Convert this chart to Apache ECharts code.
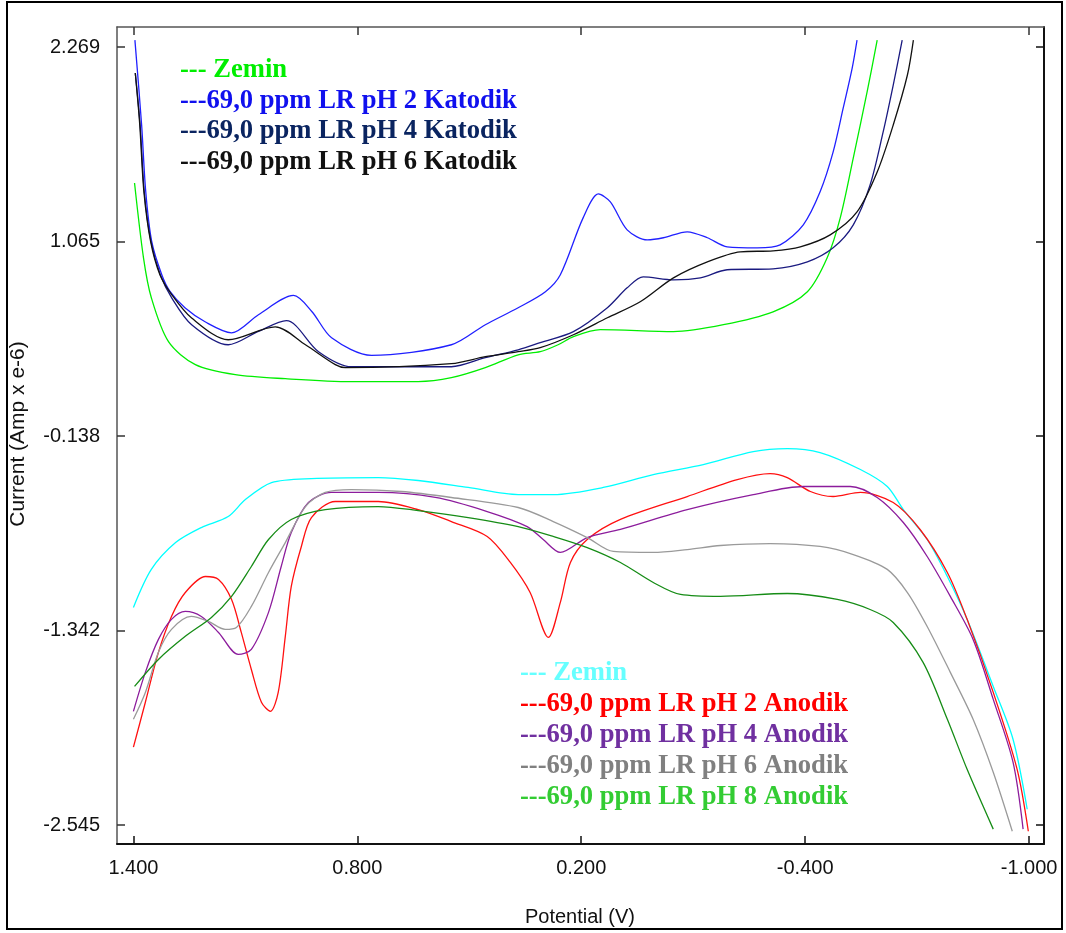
<!DOCTYPE html>
<html><head><meta charset="utf-8">
<script src="https://cdn.jsdelivr.net/npm/echarts@6/dist/echarts.min.js"></script>
<style>html,body{margin:0;padding:0;background:#fff}#c{width:1066px;height:933px}</style>
</head><body><div id="c"></div>
<script>
const xTicks = [1.4, 0.8, 0.2, -0.4, -1.0];
const yTicks = [2.269, 1.065, -0.138, -1.342, -2.545];
const xTitle = 'Potential (V)';
const yTitle = 'Current (Amp x e-6)';

// Katodik (upper group)
const zeminKatodik = [[1.397,1.428],[1.373,0.965],[1.352,0.718],[1.306,0.446],[1.234,0.304],[1.127,0.242],[0.993,0.217],[0.816,0.199],[0.637,0.199],[0.548,0.223],[0.457,0.285],[0.369,0.365],[0.310,0.384],[0.262,0.427],[0.221,0.477],[0.149,0.520],[-0.047,0.508],[-0.181,0.551],[-0.314,0.631],[-0.406,0.755],[-0.459,0.965],[-0.494,1.212],[-0.529,1.583],[-0.566,1.991],[-0.593,2.312]];
const pH2Katodik = [[1.396,2.312],[1.378,1.787],[1.367,1.375],[1.351,1.066],[1.324,0.860],[1.302,0.757],[1.262,0.656],[1.208,0.569],[1.137,0.501],[1.065,0.613],[0.971,0.732],[0.922,0.633],[0.869,0.470],[0.762,0.361],[0.548,0.427],[0.457,0.551],[0.369,0.656],[0.296,0.755],[0.256,0.860],[0.195,1.212],[0.154,1.360],[0.122,1.311],[0.077,1.138],[0.023,1.076],[-0.020,1.089],[-0.084,1.126],[-0.138,1.089],[-0.191,1.033],[-0.272,1.027],[-0.333,1.045],[-0.395,1.169],[-0.440,1.373],[-0.475,1.620],[-0.502,1.892],[-0.526,2.139],[-0.539,2.312]];
const pH4Katodik = [[1.395,2.108],[1.382,1.787],[1.371,1.375],[1.353,1.066],[1.328,0.860],[1.297,0.716],[1.244,0.551],[1.146,0.427],[1.065,0.510],[0.990,0.576],[0.904,0.384],[0.816,0.291],[0.548,0.291],[0.457,0.347],[0.369,0.396],[0.310,0.440],[0.221,0.508],[0.130,0.656],[0.077,0.779],[0.034,0.847],[-0.047,0.829],[-0.119,0.841],[-0.191,0.891],[-0.314,0.897],[-0.406,0.940],[-0.475,1.027],[-0.529,1.169],[-0.574,1.416],[-0.609,1.744],[-0.636,2.034],[-0.660,2.312]];
const pH6Katodik = [[1.395,2.108],[1.383,1.787],[1.372,1.375],[1.354,1.066],[1.329,0.860],[1.297,0.736],[1.244,0.592],[1.146,0.458],[1.020,0.538],[0.939,0.427],[0.859,0.304],[0.832,0.285],[0.548,0.310],[0.457,0.353],[0.369,0.384],[0.310,0.409],[0.221,0.489],[0.130,0.594],[0.042,0.693],[-0.047,0.841],[-0.138,0.940],[-0.226,1.002],[-0.314,1.008],[-0.387,1.033],[-0.467,1.107],[-0.539,1.249],[-0.593,1.496],[-0.636,1.787],[-0.674,2.096],[-0.690,2.312]];

// Anodik (lower group)
const zeminAnodik = [[1.400,-1.198],[1.352,-0.963],[1.287,-0.797],[1.218,-0.704],[1.146,-0.636],[1.100,-0.531],[1.030,-0.426],[0.923,-0.401],[0.744,-0.395],[0.637,-0.413],[0.503,-0.456],[0.369,-0.500],[0.275,-0.500],[0.141,-0.456],[0.007,-0.376],[-0.127,-0.314],[-0.261,-0.234],[-0.352,-0.216],[-0.440,-0.240],[-0.548,-0.345],[-0.620,-0.450],[-0.663,-0.593],[-0.727,-0.778],[-0.781,-1.007],[-0.834,-1.272],[-0.904,-1.687],[-0.957,-2.014],[-0.995,-2.447]];
const pH2Anodik = [[1.400,-2.063],[1.368,-1.785],[1.333,-1.476],[1.298,-1.254],[1.261,-1.106],[1.207,-1.007],[1.172,-1.025],[1.137,-1.149],[1.111,-1.353],[1.084,-1.582],[1.057,-1.785],[1.033,-1.841],[1.012,-1.724],[0.993,-1.377],[0.977,-1.068],[0.950,-0.821],[0.923,-0.642],[0.859,-0.543],[0.744,-0.543],[0.637,-0.593],[0.548,-0.667],[0.452,-0.759],[0.390,-0.920],[0.337,-1.106],[0.288,-1.384],[0.256,-1.167],[0.229,-0.920],[0.184,-0.778],[0.095,-0.654],[-0.084,-0.512],[-0.218,-0.407],[-0.306,-0.370],[-0.352,-0.395],[-0.414,-0.481],[-0.475,-0.512],[-0.548,-0.487],[-0.636,-0.549],[-0.708,-0.716],[-0.781,-0.982],[-0.834,-1.272],[-0.904,-1.724],[-0.968,-2.200],[-0.998,-2.583]];
const pH4Anodik = [[1.400,-1.841],[1.368,-1.600],[1.333,-1.396],[1.298,-1.272],[1.261,-1.223],[1.218,-1.254],[1.172,-1.353],[1.119,-1.489],[1.084,-1.458],[1.038,-1.229],[1.004,-0.945],[0.977,-0.735],[0.931,-0.549],[0.870,-0.487],[0.744,-0.487],[0.591,-0.518],[0.452,-0.605],[0.345,-0.698],[0.302,-0.778],[0.256,-0.858],[0.184,-0.766],[0.095,-0.716],[-0.084,-0.593],[-0.261,-0.500],[-0.395,-0.450],[-0.521,-0.450],[-0.593,-0.518],[-0.663,-0.673],[-0.727,-0.883],[-0.789,-1.130],[-0.850,-1.396],[-0.904,-1.767],[-0.957,-2.156],[-0.984,-2.570]];
const pH6Anodik = [[1.400,-1.890],[1.368,-1.724],[1.333,-1.476],[1.298,-1.334],[1.245,-1.254],[1.199,-1.285],[1.154,-1.334],[1.124,-1.322],[1.084,-1.192],[1.038,-0.982],[0.993,-0.797],[0.939,-0.574],[0.886,-0.487],[0.816,-0.469],[0.682,-0.481],[0.548,-0.518],[0.369,-0.580],[0.275,-0.667],[0.184,-0.766],[0.114,-0.852],[0.007,-0.858],[-0.084,-0.840],[-0.173,-0.815],[-0.306,-0.803],[-0.440,-0.821],[-0.529,-0.871],[-0.620,-0.963],[-0.674,-1.106],[-0.727,-1.316],[-0.789,-1.600],[-0.850,-1.890],[-0.904,-2.218],[-0.955,-2.583]];
const pH8Anodik = [[1.397,-1.687],[1.333,-1.520],[1.261,-1.377],[1.191,-1.260],[1.137,-1.130],[1.084,-0.945],[1.038,-0.778],[0.977,-0.654],[0.886,-0.593],[0.744,-0.574],[0.637,-0.599],[0.503,-0.642],[0.369,-0.698],[0.275,-0.759],[0.184,-0.828],[0.095,-0.920],[0.007,-1.044],[-0.066,-1.118],[-0.173,-1.130],[-0.352,-1.112],[-0.486,-1.149],[-0.574,-1.211],[-0.636,-1.291],[-0.716,-1.538],[-0.781,-1.890],[-0.834,-2.200],[-0.904,-2.570]];

const katodikLabels = ['--- Zemin','---69,0 ppm LR pH 2 Katodik','---69,0 ppm LR pH 4 Katodik','---69,0 ppm LR pH 6 Katodik'];
const anodikLabels = ['--- Zemin','---69,0 ppm LR pH 2 Anodik','---69,0 ppm LR pH 4 Anodik','---69,0 ppm LR pH 6 Anodik','---69,0 ppm LR pH 8 Anodik'];

const katodikData = [zeminKatodik, pH2Katodik, pH4Katodik, pH6Katodik];
const anodikData = [zeminAnodik, pH2Anodik, pH4Anodik, pH6Anodik, pH8Anodik];
const katodikLine = ['#00ee00','#2020ff','#1a1a80','#111111'];
const katodikText = ['#00ee00','#1010ee','#0a2460','#111111'];
const anodikLine = ['#00ffff','#ff1010','#8c1c9c','#9a9a9a','#168c16'];
const anodikText = ['#66ffff','#ff0000','#7030a0','#808080','#33cc33'];

const series = [];
katodikData.forEach((d,i)=>series.push({name:katodikLabels[i]+' ',type:'line',data:d,showSymbol:false,smooth:0.3,lineStyle:{color:katodikLine[i],width:1.3},itemStyle:{color:katodikLine[i]},z:3}));
anodikData.forEach((d,i)=>series.push({name:anodikLabels[i],type:'line',data:d,showSymbol:false,smooth:0.3,lineStyle:{color:anodikLine[i],width:1.3},itemStyle:{color:anodikLine[i]},z:3}));

const legendFont = 'bold 26.6px "Liberation Serif", "Times New Roman", serif';
const graphic = [];
katodikLabels.forEach((t,i)=>graphic.push({type:'text',x:180,y:70+i*30.7,style:{text:t,fill:katodikText[i],font:legendFont,verticalAlign:'middle',align:'left'}}));
anodikLabels.forEach((t,i)=>graphic.push({type:'text',x:520,y:673+i*31,style:{text:t,fill:anodikText[i],font:legendFont,verticalAlign:'middle',align:'left'}}));
graphic.push({type:'text',x:18,y:434,rotation:Math.PI/2,style:{text:yTitle,fill:'#111',font:'21px "Liberation Sans", Arial, sans-serif',align:'center',verticalAlign:'middle'}});
graphic.push({type:'text',x:580,y:917,style:{text:xTitle,fill:'#111',font:'20px "Liberation Sans", Arial, sans-serif',align:'center',verticalAlign:'middle'}});
graphic.push({type:'rect',shape:{x:7,y:2,width:1055,height:927},style:{fill:'none',stroke:'#000',lineWidth:2},silent:true});

const xMin = -1.040, xMax = 1.444, yMin = -2.662, yMax = 2.393;
const lbl = {fontFamily:'"Liberation Sans", Arial, sans-serif',fontSize:20,color:'#111'};
const chart = echarts.init(document.getElementById('c'),null,{renderer:'canvas'});
chart.setOption({
  animation:false,
  backgroundColor:'#fff',
  grid:{left:117,right:22,top:27,bottom:89,containLabel:false},
  xAxis:[
    {type:'value',inverse:true,min:xMin,max:xMax,position:'bottom',
     axisLine:{onZero:false,lineStyle:{color:'#111',width:2}},
     axisTick:{inside:true,length:8,customValues:xTicks,lineStyle:{color:'#111',width:1.5}},
     axisLabel:Object.assign({customValues:xTicks,margin:14,formatter:v=>v.toFixed(3)},lbl),
     splitLine:{show:false}},
    {type:'value',inverse:true,min:xMin,max:xMax,position:'top',
     axisLine:{onZero:false,lineStyle:{color:'#555',width:1.5}},
     axisTick:{inside:true,length:8,customValues:xTicks,lineStyle:{color:'#333',width:1.5}},
     axisLabel:{show:false},splitLine:{show:false}}
  ],
  yAxis:[
    {type:'value',min:yMin,max:yMax,position:'left',
     axisLine:{show:true,onZero:false,lineStyle:{color:'#555',width:1.5}},
     axisTick:{show:true,inside:true,length:8,customValues:yTicks,lineStyle:{color:'#333',width:1.5}},
     axisLabel:Object.assign({customValues:yTicks,margin:17,formatter:v=>v.toFixed(3)},lbl),
     splitLine:{show:false}},
    {type:'value',min:yMin,max:yMax,position:'right',
     axisLine:{show:true,onZero:false,lineStyle:{color:'#111',width:2}},
     axisTick:{show:true,inside:true,length:8,customValues:yTicks,lineStyle:{color:'#111',width:1.5}},
     axisLabel:{show:false},splitLine:{show:false}}
  ],
  series:series,
  graphic:graphic
});
</script></body></html>
